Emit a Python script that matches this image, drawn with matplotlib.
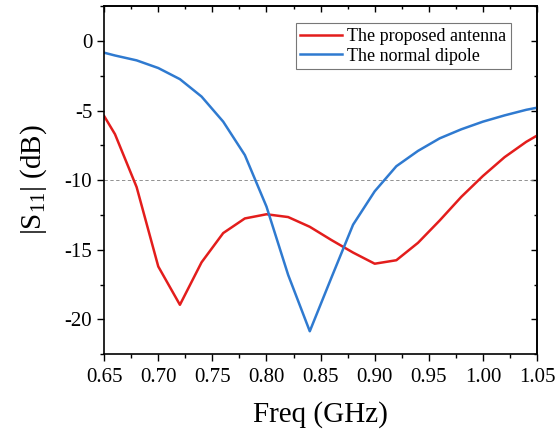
import numpy as np
import matplotlib.pyplot as plt
from matplotlib.ticker import MultipleLocator

# S11 de la antena propuesta vs el dipolo normal
freq_prop = [0.65, 0.66, 0.68, 0.70, 0.72, 0.74, 0.76, 0.78, 0.80, 0.82, 0.84,
             0.86, 0.88, 0.90, 0.92, 0.94, 0.96, 0.98, 1.00, 1.02, 1.04, 1.05]
s11_prop = [-5.4, -6.7, -10.5, -16.2, -18.95, -15.9, -13.8, -12.75, -12.45, -12.65, -13.35,
            -14.3, -15.2, -16.0, -15.75, -14.5, -12.9, -11.2, -9.7, -8.35, -7.25, -6.8]

freq_dip = [0.65, 0.66, 0.68, 0.70, 0.72, 0.74, 0.76, 0.78, 0.80, 0.82, 0.84,
            0.86, 0.88, 0.90, 0.92, 0.94, 0.96, 0.98, 1.00, 1.02, 1.04, 1.05]
s11_dip = [-0.85, -1.05, -1.4, -1.95, -2.75, -4.0, -5.8, -8.2, -11.9, -16.8, -20.85,
           -17.0, -13.2, -10.8, -9.0, -7.9, -7.0, -6.35, -5.8, -5.35, -4.95, -4.8]

nombres = ['The proposed antenna', 'The normal dipole']
x_ticks = [0.65, 0.70, 0.75, 0.80, 0.85, 0.90, 0.95, 1.00, 1.05]
y_ticks = [0, -5, -10, -15, -20]

plt.rcParams['font.family'] = 'Liberation Serif'
plt.rcParams['mathtext.fontset'] = 'custom'
plt.rcParams['mathtext.rm'] = 'Liberation Serif'
plt.rcParams['mathtext.default'] = 'regular'
plt.rcParams['axes.unicode_minus'] = False

fig = plt.figure(figsize=(5.6, 4.32), dpi=100)
ax = fig.add_axes([0.186, 0.180, 0.773, 0.806])

ax.axhline(-10, color='gray', linestyle='--', linewidth=0.6, dashes=(4, 3))
ax.plot(freq_prop, s11_prop, color='#e31d1c', linewidth=1.8, label=nombres[0])
ax.plot(freq_dip, s11_dip, color='#2f7ad0', linewidth=1.8, label=nombres[1])

ax.set_xlim(0.65, 1.05)
ax.set_ylim(-22.5, 2.5)
ax.set_xticks(x_ticks)
ax.set_xticklabels(['%.2f' % v for v in x_ticks])
ax.set_yticks(y_ticks)
ax.xaxis.set_minor_locator(MultipleLocator(0.025))
ax.yaxis.set_minor_locator(MultipleLocator(2.5))

ax.tick_params(which='both', labelsize=15, width=1.0, direction='out')
ax.tick_params(which='major', length=5)
ax.tick_params(which='minor', length=3)
ax.tick_params(axis='x', pad=5)

# ticks de arriba y derecha hacia dentro, sin etiquetas
arriba = ax.secondary_xaxis('top')
arriba.set_xticks(x_ticks)
arriba.xaxis.set_minor_locator(MultipleLocator(0.025))
arriba.tick_params(which='both', direction='in', labeltop=False, width=1.0)
arriba.tick_params(which='major', length=4)
arriba.tick_params(which='minor', length=2.5)
derecha = ax.secondary_yaxis('right')
derecha.set_yticks(y_ticks)
derecha.yaxis.set_minor_locator(MultipleLocator(2.5))
derecha.tick_params(which='both', direction='in', labelright=False, width=1.0)
derecha.tick_params(which='major', length=4)
derecha.tick_params(which='minor', length=2.5)

for s in list(ax.spines.values()) + [arriba.spines['top'], derecha.spines['right']]:
    s.set_linewidth(1.2)

ax.set_xlabel('Freq (GHz)', fontsize=21, labelpad=10)
ax.set_ylabel('|S$_{11}$| (dB)', fontsize=21, labelpad=11)

leg = ax.legend(loc='upper right', bbox_to_anchor=(0.94, 0.95), fontsize=13,
                frameon=True, fancybox=False, edgecolor='#555555',
                handlelength=2.3, handletextpad=0.3, borderpad=0.25, labelspacing=0.15,
                borderaxespad=0)
leg.get_frame().set_linewidth(0.8)

fig.savefig('out.png', dpi=100)
